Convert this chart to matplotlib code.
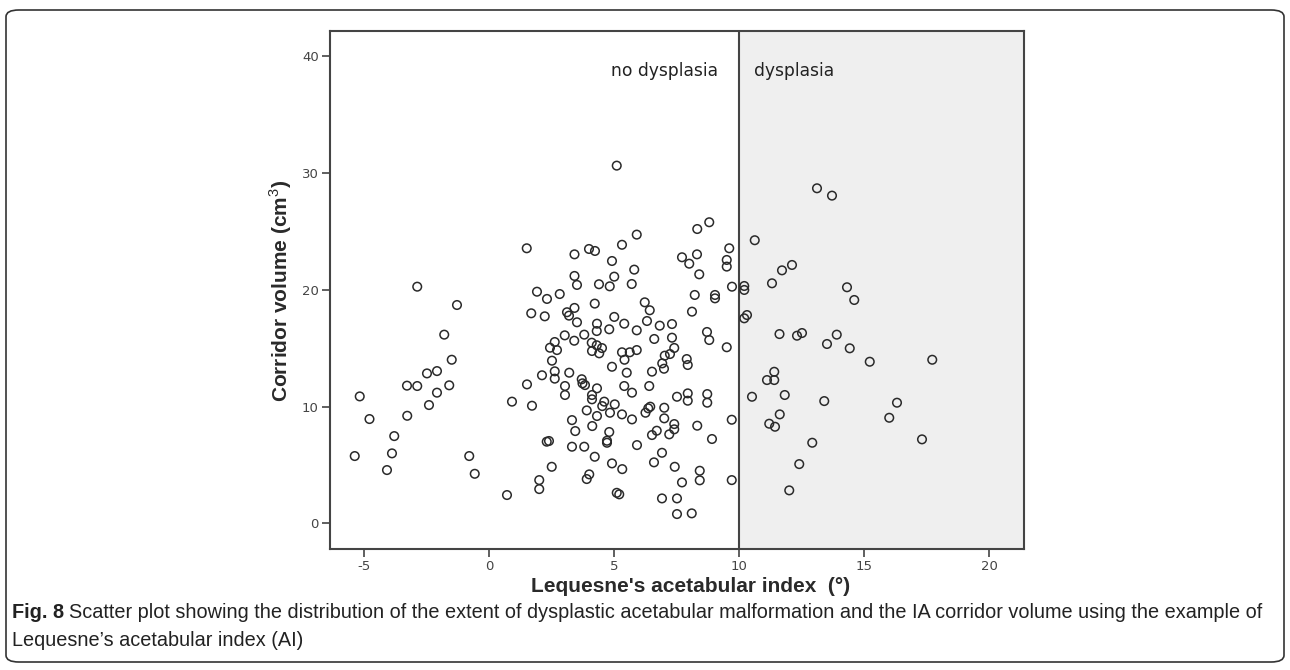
import matplotlib.pyplot as plt
from matplotlib.patches import FancyBboxPatch
import numpy as np

plt.rcParams['font.family'] = ['Liberation Sans', 'DejaVu Sans']
plt.rcParams['mathtext.fontset'] = 'custom'
plt.rcParams['mathtext.rm'] = 'Liberation Sans'
plt.rcParams['mathtext.bf'] = 'Liberation Sans:bold'
plt.rcParams['axes.unicode_minus'] = False

# Lequesne's acetabular index (deg) and corridor volume (cm3)
# hips without dysplasia (AI < 10)
ai_nodys = [
    -2.88, -1.29, -1.8, -1.5, -2.49, -2.09, -3.29, -2.88, -1.6, -2.09, -5.18, -2.41,
    -4.79, -3.28, -3.8, -5.38, -3.89, -4.09, -0.8, -0.58, 0.71, 0.91, 1.51,
    1.5, 1.68, 5.1, 3.41, 3.99, 4.23, 5.31, 5.9, 4.91, 8.32, 8.8, 7.71, 8.0, 8.31,
    9.6, 9.5, 9.5, 8.4, 5.8, 5.0, 3.41, 3.51, 4.39, 4.82, 5.7, 1.91, 2.31, 2.82,
    4.22, 6.22, 6.42, 8.22, 9.03, 9.03, 9.71, 8.11, 2.22, 3.11, 3.19, 3.41, 3.51,
    5.0, 4.31, 4.3, 5.4, 6.31, 6.82, 7.31, 4.8, 5.9, 3.02, 3.8, 3.4, 6.6, 7.31,
    8.71, 8.8, 9.5, 2.62, 2.43, 2.71, 4.1, 4.3, 4.51, 4.11, 4.4, 5.31, 5.62, 5.9,
    5.41, 7.4, 7.23, 7.02, 6.92, 6.99, 7.9, 7.94, 2.51, 2.11, 2.62, 2.62, 3.2, 3.7,
    4.91, 5.5, 6.51,
    1.71, 3.03, 3.03, 3.73, 3.83, 4.11, 4.11, 4.31, 4.6, 4.52, 5.02, 5.4, 5.71,
    6.4, 3.9, 4.31, 4.83, 5.31, 5.71, 6.25, 6.36, 6.44, 7.0, 7.0, 7.51, 7.94, 7.94,
    8.72, 8.72, 7.4, 7.4, 7.2, 8.32, 8.91, 9.7, 6.7, 6.51, 6.91, 6.59, 7.42, 7.71,
    8.42, 8.42, 9.7, 6.91, 7.51, 7.51, 8.1, 3.31, 3.44, 4.12, 4.8, 4.71, 4.71,
    5.91, 2.3, 2.39, 3.31, 3.8, 4.22, 2.5, 4.91, 5.32, 4.0, 3.9, 2.0, 2.0, 5.1, 5.2,
]
vol_nodys = [
    20.28, 18.71, 16.17, 14.02, 12.85, 13.05, 11.8, 11.77, 11.83, 11.2, 10.88, 10.14,
    8.94, 9.22, 7.48, 5.77, 6.0, 4.57, 5.77, 4.25, 2.43, 10.43, 11.91,
    23.57, 18.0, 30.65, 23.05, 23.51, 23.34, 23.87, 24.74, 22.48, 25.22, 25.8, 22.8,
    22.25, 23.05, 23.57, 22.57, 22.0, 21.34, 21.74, 21.14, 21.2, 20.43, 20.49, 20.31,
    20.51, 19.85, 19.23, 19.65, 18.83, 18.94, 18.26, 19.57, 19.57, 19.28, 20.28,
    18.14, 17.74, 18.09, 17.8, 18.46, 17.23, 17.69, 17.11, 16.48, 17.11, 17.34,
    16.94, 17.08, 16.63, 16.54, 16.11, 16.17, 15.65, 15.8, 15.91, 16.4, 15.71, 15.09,
    15.54, 15.05, 14.85, 15.48, 15.26, 15.02, 14.77, 14.57, 14.66, 14.66, 14.85,
    14.02, 15.03, 14.51, 14.37, 13.71, 13.25, 14.08, 13.57, 13.94, 12.69, 13.03,
    12.4, 12.91, 12.35, 13.42, 12.91, 13.0,
    10.08, 11.77, 11.0, 12.0, 11.85, 11.0, 10.63, 11.57, 10.43, 10.05, 10.2, 11.77,
    11.2, 11.77, 9.68, 9.2, 9.48, 9.34, 8.91, 9.48, 9.86, 10.0, 9.91, 9.0, 10.85,
    11.14, 10.51, 11.08, 10.34, 8.51, 8.06, 7.63, 8.37, 7.23, 8.88, 7.94, 7.57,
    6.05, 5.23, 4.85, 3.51, 4.51, 3.69, 3.71, 2.14, 2.14, 0.8, 0.86, 8.85, 7.91,
    8.34, 7.83, 7.08, 6.91, 6.71, 7.0, 7.06, 6.57, 6.57, 5.71, 4.85, 5.14, 4.65,
    4.2, 3.8, 3.71, 2.94, 2.62, 2.49,
]
# hips with dysplasia (AI >= 10)
ai_dys = [
    13.11, 13.71, 10.62, 10.2, 10.2, 12.11, 11.71, 11.31, 14.31, 14.6, 10.31, 10.2,
    11.61, 12.31, 12.51, 13.9, 13.51, 14.42, 15.22, 17.72, 11.4, 11.11, 11.4, 10.51,
    11.82, 13.4, 16.31, 16.0, 17.31, 11.62, 11.2, 11.43, 12.92, 12.4, 12.0,
]
vol_dys = [
    28.71, 28.08, 24.26, 20.34, 20.0, 22.14, 21.68, 20.57, 20.23, 19.14, 17.85, 17.57,
    16.22, 16.08, 16.31, 16.17, 15.37, 15.0, 13.85, 14.02, 12.99, 12.28, 12.28, 10.85,
    11.0, 10.48, 10.34, 9.05, 7.2, 9.34, 8.54, 8.28, 6.91, 5.08, 2.83,
]

cutoff = 10
x_ticks = [-5, 0, 5, 10, 15, 20]
y_ticks = [0, 10, 20, 30, 40]

fig = plt.figure(figsize=(12.9, 6.7), dpi=100)
ax = fig.add_axes([0.2558, 0.181, 0.538, 0.773])

ax.set_xlim(-6.37, 21.39)
ax.set_ylim(-2.17, 42.2)

ax.axvspan(cutoff, 21.39, color='#efefef', zorder=0, lw=0)
ax.axvline(cutoff, color='#444444', lw=1.5, zorder=1)

all_x = np.array(ai_nodys + ai_dys)
all_y = np.array(vol_nodys + vol_dys)
ax.scatter(all_x, all_y, s=38, facecolors='none', edgecolors='#2a2a2a',
           linewidths=1.1, zorder=3)

ax.text(cutoff - 0.84, 38.8, 'no dysplasia', ha='right', va='center',
        fontsize=12.3, color='#222222', family=['DejaVu Sans'])
ax.text(cutoff + 0.6, 38.8, 'dysplasia', ha='left', va='center',
        fontsize=12.3, color='#222222', family=['DejaVu Sans'])

ax.set_xticks(x_ticks)
ax.set_yticks(y_ticks)
ax.tick_params(direction='out', length=6, width=1.2, color='#444444',
               labelsize=9.5, labelcolor='#444444', pad=2)
for lab in ax.get_xticklabels() + ax.get_yticklabels():
    lab.set_family(['DejaVu Sans'])
for sp in ax.spines.values():
    sp.set_color('#444444')
    sp.set_linewidth(1.5)

fig.text(691 / 1290, 1 - 586 / 670, "Lequesne's acetabular index  (°)", ha='center',
         va='center', fontsize=15, fontweight='bold', color='#2a2a2a')
fig.text(281 / 1290, 1 - 291 / 670, 'Corridor volume (cm$^3$)', ha='center', va='center',
         rotation=90, fontsize=15, fontweight='bold', color='#2a2a2a')

# caption
renderer = fig.canvas.get_renderer()
cap_y = 1 - 612 / 670
t_bold = fig.text(12 / 1290, cap_y, 'Fig. 8', ha='left', va='center',
                  fontsize=14.3, fontweight='bold', color='#222222')
bb = t_bold.get_window_extent(renderer)
fig.text(bb.x1 / 1290 + 5 / 1290, cap_y,
         'Scatter plot showing the distribution of the extent of dysplastic acetabular '
         'malformation and the IA corridor volume using the example of',
         ha='left', va='center', fontsize=14.3, color='#222222')
fig.text(12 / 1290, 1 - 641 / 670, "Lequesne’s acetabular index (AI)", ha='left',
         va='center', fontsize=14.3, color='#222222')

# rounded frame around figure and caption
frame = FancyBboxPatch((6 / 1290, 8 / 670), 1278 / 1290, 652 / 670,
                       boxstyle='round,pad=0,rounding_size=0.01',
                       transform=fig.transFigure, fill=False,
                       edgecolor='#333333', lw=1.2)
fig.patches.append(frame)

fig.savefig('out.png', dpi=100)
